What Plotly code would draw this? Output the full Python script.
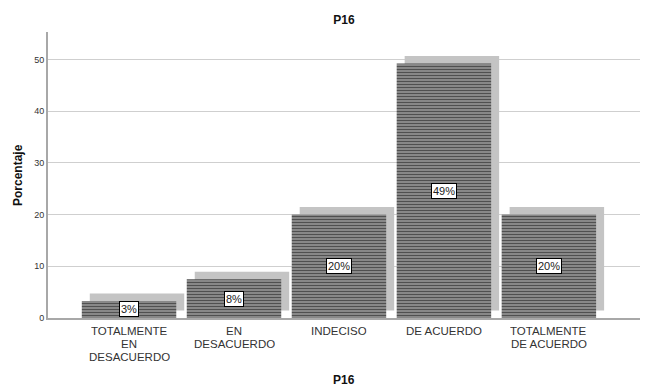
import plotly.graph_objects as go

# Response categories for item P16 and the share of respondents in each
categories = [
    "TOTALMENTE<br>EN<br>DESACUERDO",
    "EN<br>DESACUERDO",
    "INDECISO",
    "DE ACUERDO",
    "TOTALMENTE<br>DE ACUERDO",
]
porcentaje = [3.3, 7.5, 20.0, 49.2, 20.0]
y_ticks = [0, 10, 20, 30, 40, 50]

FONT = "Liberation Sans, Arial, sans-serif"
BAR_WIDTH = 0.9
SHADOW_DX = 0.076   # drop shadow shift to the right (category units)
SHADOW_DY = 1.45    # drop shadow lift (percentage units)
LINE_STEP = 13      # px between lines of a category label

fig = go.Figure()

# Light grey drop shadow behind each bar
fig.add_trace(go.Bar(
    x=categories,
    y=porcentaje,
    base=SHADOW_DY,
    width=BAR_WIDTH,
    offset=-BAR_WIDTH / 2 + SHADOW_DX,
    marker=dict(color="#c4c4c4", line=dict(width=0)),
    hoverinfo="skip",
    showlegend=False,
))

# Main bars with horizontal hatching
fig.add_trace(go.Bar(
    x=categories,
    y=porcentaje,
    width=BAR_WIDTH,
    offset=-BAR_WIDTH / 2,
    marker=dict(
        color="#a2a2a2",
        line=dict(width=0),
        pattern=dict(shape="-", fgcolor="#505050", bgcolor="#a2a2a2",
                     size=3, solidity=0.55, fillmode="replace"),
    ),
    showlegend=False,
))

# Percentage labels in boxed tags at the middle of each bar
for cat, val in zip(categories, porcentaje):
    fig.add_annotation(
        x=cat, y=val / 2, xref="x", yref="y",
        text=f"{int(val + 0.5)}%",
        showarrow=False,
        font=dict(family=FONT, size=11, color="#222222"),
        bgcolor="white", bordercolor="black", borderwidth=1, borderpad=1,
    )

# Category labels under the axis, one text line at a time for tight spacing
for cat in categories:
    for i, line in enumerate(cat.split("<br>")):
        fig.add_annotation(
            x=cat, y=0, xref="x", yref="paper",
            yanchor="middle", yshift=-12.5 - LINE_STEP * i,
            height=LINE_STEP - 1,
            text=line, showarrow=False,
            font=dict(family=FONT, size=11.5, color="#333333"),
        )

# Axis titles
fig.add_annotation(
    x=0.5, y=0, xref="paper", yref="paper",
    yanchor="middle", yshift=-62,
    text="<b>P16</b>", showarrow=False,
    font=dict(family=FONT, size=12, color="#111111"),
)
fig.add_annotation(
    x=0, y=0.5, xref="paper", yref="paper",
    xanchor="center", xshift=-30, textangle=-90,
    text="<b>Porcentaje</b>", showarrow=False,
    font=dict(family=FONT, size=12, color="#111111"),
)

fig.update_layout(
    width=651, height=387,
    margin=dict(l=48, r=11, t=32, b=69),
    paper_bgcolor="white", plot_bgcolor="white",
    barmode="overlay",
    font=dict(family=FONT),
    title=dict(text="<b>P16</b>", x=0.5, xref="paper", xanchor="center",
               y=1 - 20 / 387, yref="container", yanchor="middle",
               font=dict(family=FONT, size=12, color="#111111")),
    xaxis=dict(
        type="category",
        range=[-0.772, 4.868],
        showgrid=False,
        showline=True, linecolor="#a8a8a8", linewidth=1.5,
        ticks="", showticklabels=False,
        automargin=False,
        fixedrange=True,
    ),
    yaxis=dict(
        range=[0, 55.3],
        tickvals=y_ticks,
        showgrid=True, gridcolor="#cfcfcf", gridwidth=1,
        zeroline=False,
        showline=True, linecolor="#a8a8a8", linewidth=2,
        ticks="", tickfont=dict(family=FONT, size=9, color="#333333"),
        automargin=False,
        fixedrange=True,
    ),
)

fig.write_html("out.html")
